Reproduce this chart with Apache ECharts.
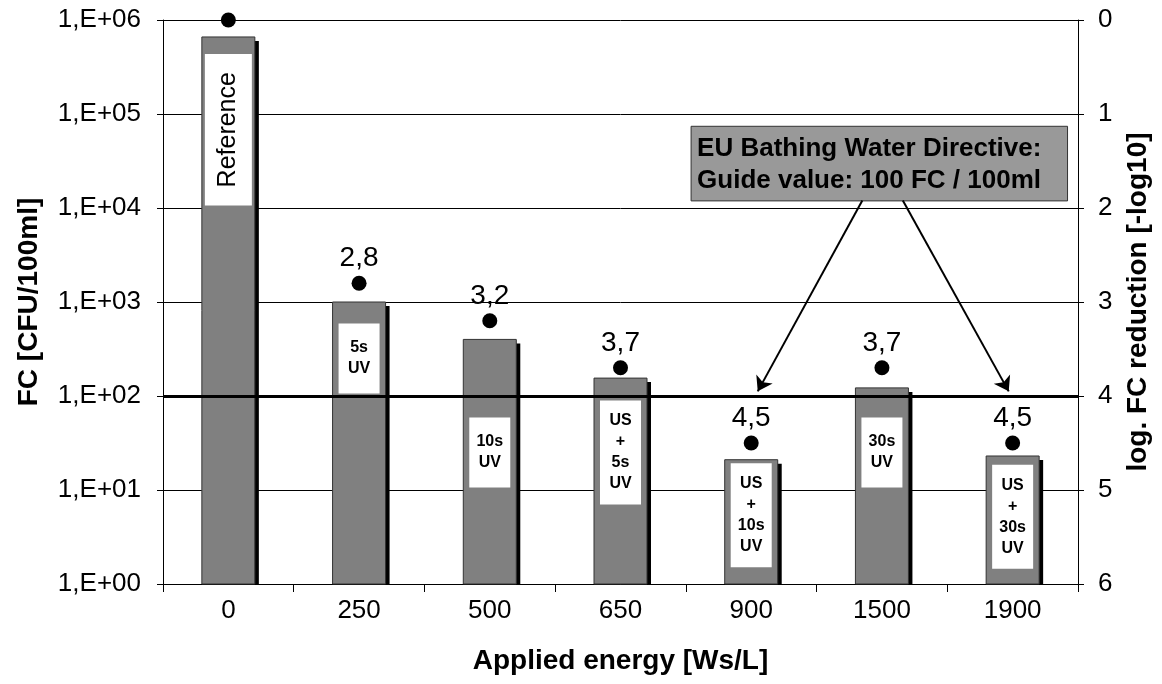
<!DOCTYPE html>
<html><head><meta charset="utf-8">
<script src="https://cdn.jsdelivr.net/npm/echarts@6/dist/echarts.min.js"></script>
<style>html,body{margin:0;padding:0;background:#fff}#c{width:1162px;height:684px}</style>
</head><body><div id="c"></div>
<script>
// ---- data ----
const categories = ['0', '250', '500', '650', '900', '1500', '1900'];
const fcValues = [660000, 1000, 400, 155, 21, 122, 23];          // FC [CFU/100ml]
const logReduction = [0, 2.8, 3.2, 3.7, 4.5, 3.7, 4.5];          // log. FC reduction
const treatmentLabels = ['Reference', '5s\nUV', '10s\nUV', 'US\n+\n5s\nUV', 'US\n+\n10s\nUV', '30s\nUV', 'US\n+\n30s\nUV'];
const treatmentLabelAt = [68000, 250, 25, 25, 5.4, 25, 5.2];    // FC value at label centre
const guideValue = 100;
const annotationLines = ['EU Bathing Water Directive:', 'Guide value: 100 FC / 100ml'];
const annotationBox = [3.54, 74000, 6.42, 11900];               // [x0, y0, x1, y1]
const arrowLines = [[[4.85, 12000], [4.05, 112]], [[5.16, 12000], [5.97, 112]]];

const FONT = '"Liberation Sans", Arial, sans-serif';
const chart = echarts.init(document.getElementById('c'), null, {renderer: 'canvas'});

const labelData = treatmentLabels.map((t, i) => {
  const nLines = t.split('\n').length;
  if (i === 0) {
    return {value: [i, treatmentLabelAt[i]], name: t,
      label: {rotate: 90, fontWeight: 'normal', fontSize: 25, padding: [10, 18], lineHeight: 27}};
  }
  return {value: [i, treatmentLabelAt[i]], name: t,
    label: {width: 41, align: 'center', fontWeight: 'bold', fontSize: 16, lineHeight: 21,
      padding: nLines === 2 ? [14, 0] : [10, 0]}};
});

const dotData = logReduction.map((v, i) => ({value: v, label: {show: i > 0}}));

const option = {
  animation: false,
  backgroundColor: '#fff',
  grid: {left: 163, right: 84, top: 20, bottom: 100, containLabel: false},
  xAxis: [{
    type: 'category', data: categories, boundaryGap: true,
    axisLine: {onZero: false, lineStyle: {color: '#000', width: 1}},
    axisTick: {show: true, interval: 0, length: 8, lineStyle: {color: '#000'}},
    axisLabel: {color: '#000', fontSize: 26, fontFamily: FONT, margin: 14},
    name: 'Applied energy [Ws/L]', nameLocation: 'middle', nameGap: 63,
    nameTextStyle: {color: '#000', fontSize: 28, fontWeight: 'bold', fontFamily: FONT}
  }, {
    type: 'value', min: -0.5, max: 6.5, show: false,
    axisLine: {show: false, onZero: false}, splitLine: {show: false}, axisTick: {show: false}, axisLabel: {show: false}
  }],
  yAxis: [{
    type: 'log', logBase: 10, min: 1, max: 1000000, interval: 1,
    axisLine: {show: true, onZero: false, lineStyle: {color: '#000'}},
    axisTick: {show: true, length: 6, lineStyle: {color: '#000'}},
    axisLabel: {color: '#000', fontSize: 26, fontFamily: FONT, margin: 22,
      formatter: v => '1,E+' + String(Math.round(Math.log10(v))).padStart(2, '0')},
    splitLine: {show: true, lineStyle: {color: '#000', width: 1}},
    name: 'FC [CFU/100ml]', nameLocation: 'middle', nameGap: 120, nameRotate: 90,
    nameTextStyle: {color: '#000', fontSize: 28, fontWeight: 'bold', fontFamily: FONT}
  }, {
    type: 'value', min: 0, max: 6, interval: 1, inverse: true, position: 'right',
    axisLine: {show: true, onZero: false, lineStyle: {color: '#000'}},
    axisTick: {show: true, length: 6, lineStyle: {color: '#000'}},
    axisLabel: {color: '#000', fontSize: 26, fontFamily: FONT, margin: 20},
    splitLine: {show: false},
    name: 'log. FC reduction [-log10]', nameLocation: 'middle', nameGap: 46, nameRotate: 90,
    nameTextStyle: {color: '#000', fontSize: 28, fontWeight: 'bold', fontFamily: FONT}
  }],
  series: [{
    type: 'custom', xAxisIndex: 0, yAxisIndex: 0, z: 2,
    data: fcValues.map((v, i) => [i, v]),
    encode: {x: 0, y: 1},
    renderItem: (params, api) => {
      const top = api.coord([api.value(0), api.value(1)]);
      const base = api.coord([api.value(0), 1]);
      const w = 53, x = top[0] - w / 2, h = base[1] - top[1];
      return {
        type: 'group', children: [{
          type: 'rect', shape: {x: x + 4, y: top[1] + 4, width: w, height: h - 4},
          style: {fill: '#000'}
        }, {
          type: 'rect', shape: {x: x, y: top[1], width: w, height: h},
          style: {fill: '#808080', stroke: '#333', lineWidth: 1}
        }]
      };
    }
  }, {
    type: 'scatter', data: labelData, xAxisIndex: 0, yAxisIndex: 0,
    symbolSize: 1, itemStyle: {color: 'rgba(255,255,255,0)', opacity: 1},
    label: {show: true, position: 'inside', formatter: p => p.name,
      color: '#000', fontFamily: FONT, backgroundColor: '#fff', opacity: 1},
    emphasis: {disabled: true},
    markLine: {
      silent: true, symbol: ['none', 'none'], label: {show: false},
      lineStyle: {color: '#000', width: 3, type: 'solid', opacity: 1},
      data: [{yAxis: guideValue}]
    },
    z: 3
  }, {
    type: 'scatter', data: dotData, xAxisIndex: 0, yAxisIndex: 1,
    symbol: 'circle', symbolSize: 15, itemStyle: {color: '#000', opacity: 1},
    emphasis: {disabled: true},
    label: {show: true, position: 'top', distance: 3, color: '#000', fontFamily: FONT, fontSize: 28, opacity: 1,
      formatter: p => String(p.value).replace('.', ',')},
    z: 4
  }, {
    type: 'custom', xAxisIndex: 1, yAxisIndex: 0, z: 5,
    data: [annotationBox],
    encode: {x: [0, 2], y: [1, 3]},
    renderItem: (params, api) => {
      const p0 = api.coord([api.value(0), api.value(1)]);
      const p1 = api.coord([api.value(2), api.value(3)]);
      return {
        type: 'group', children: [{
          type: 'rect',
          shape: {x: p0[0], y: p0[1], width: p1[0] - p0[0], height: p1[1] - p0[1]},
          style: {fill: '#999999', stroke: '#333', lineWidth: 1}
        }, {
          type: 'text',
          style: {text: annotationLines.join('\n'), x: p0[0] + 6, y: (p0[1] + p1[1]) / 2 + 1,
            verticalAlign: 'middle', align: 'left', fill: '#000', font: 'bold 26px ' + FONT, lineHeight: 32}
        }]
      };
    }
  }, {
    type: 'lines', coordinateSystem: 'cartesian2d', xAxisIndex: 1, yAxisIndex: 0, z: 5,
    polyline: false,
    symbol: ['none', 'arrow'], symbolSize: 14,
    lineStyle: {color: '#000', width: 2, opacity: 1, curveness: 0},
    data: arrowLines.map(c => ({coords: c}))
  }]
};
chart.setOption(option);
</script>
</body></html>
